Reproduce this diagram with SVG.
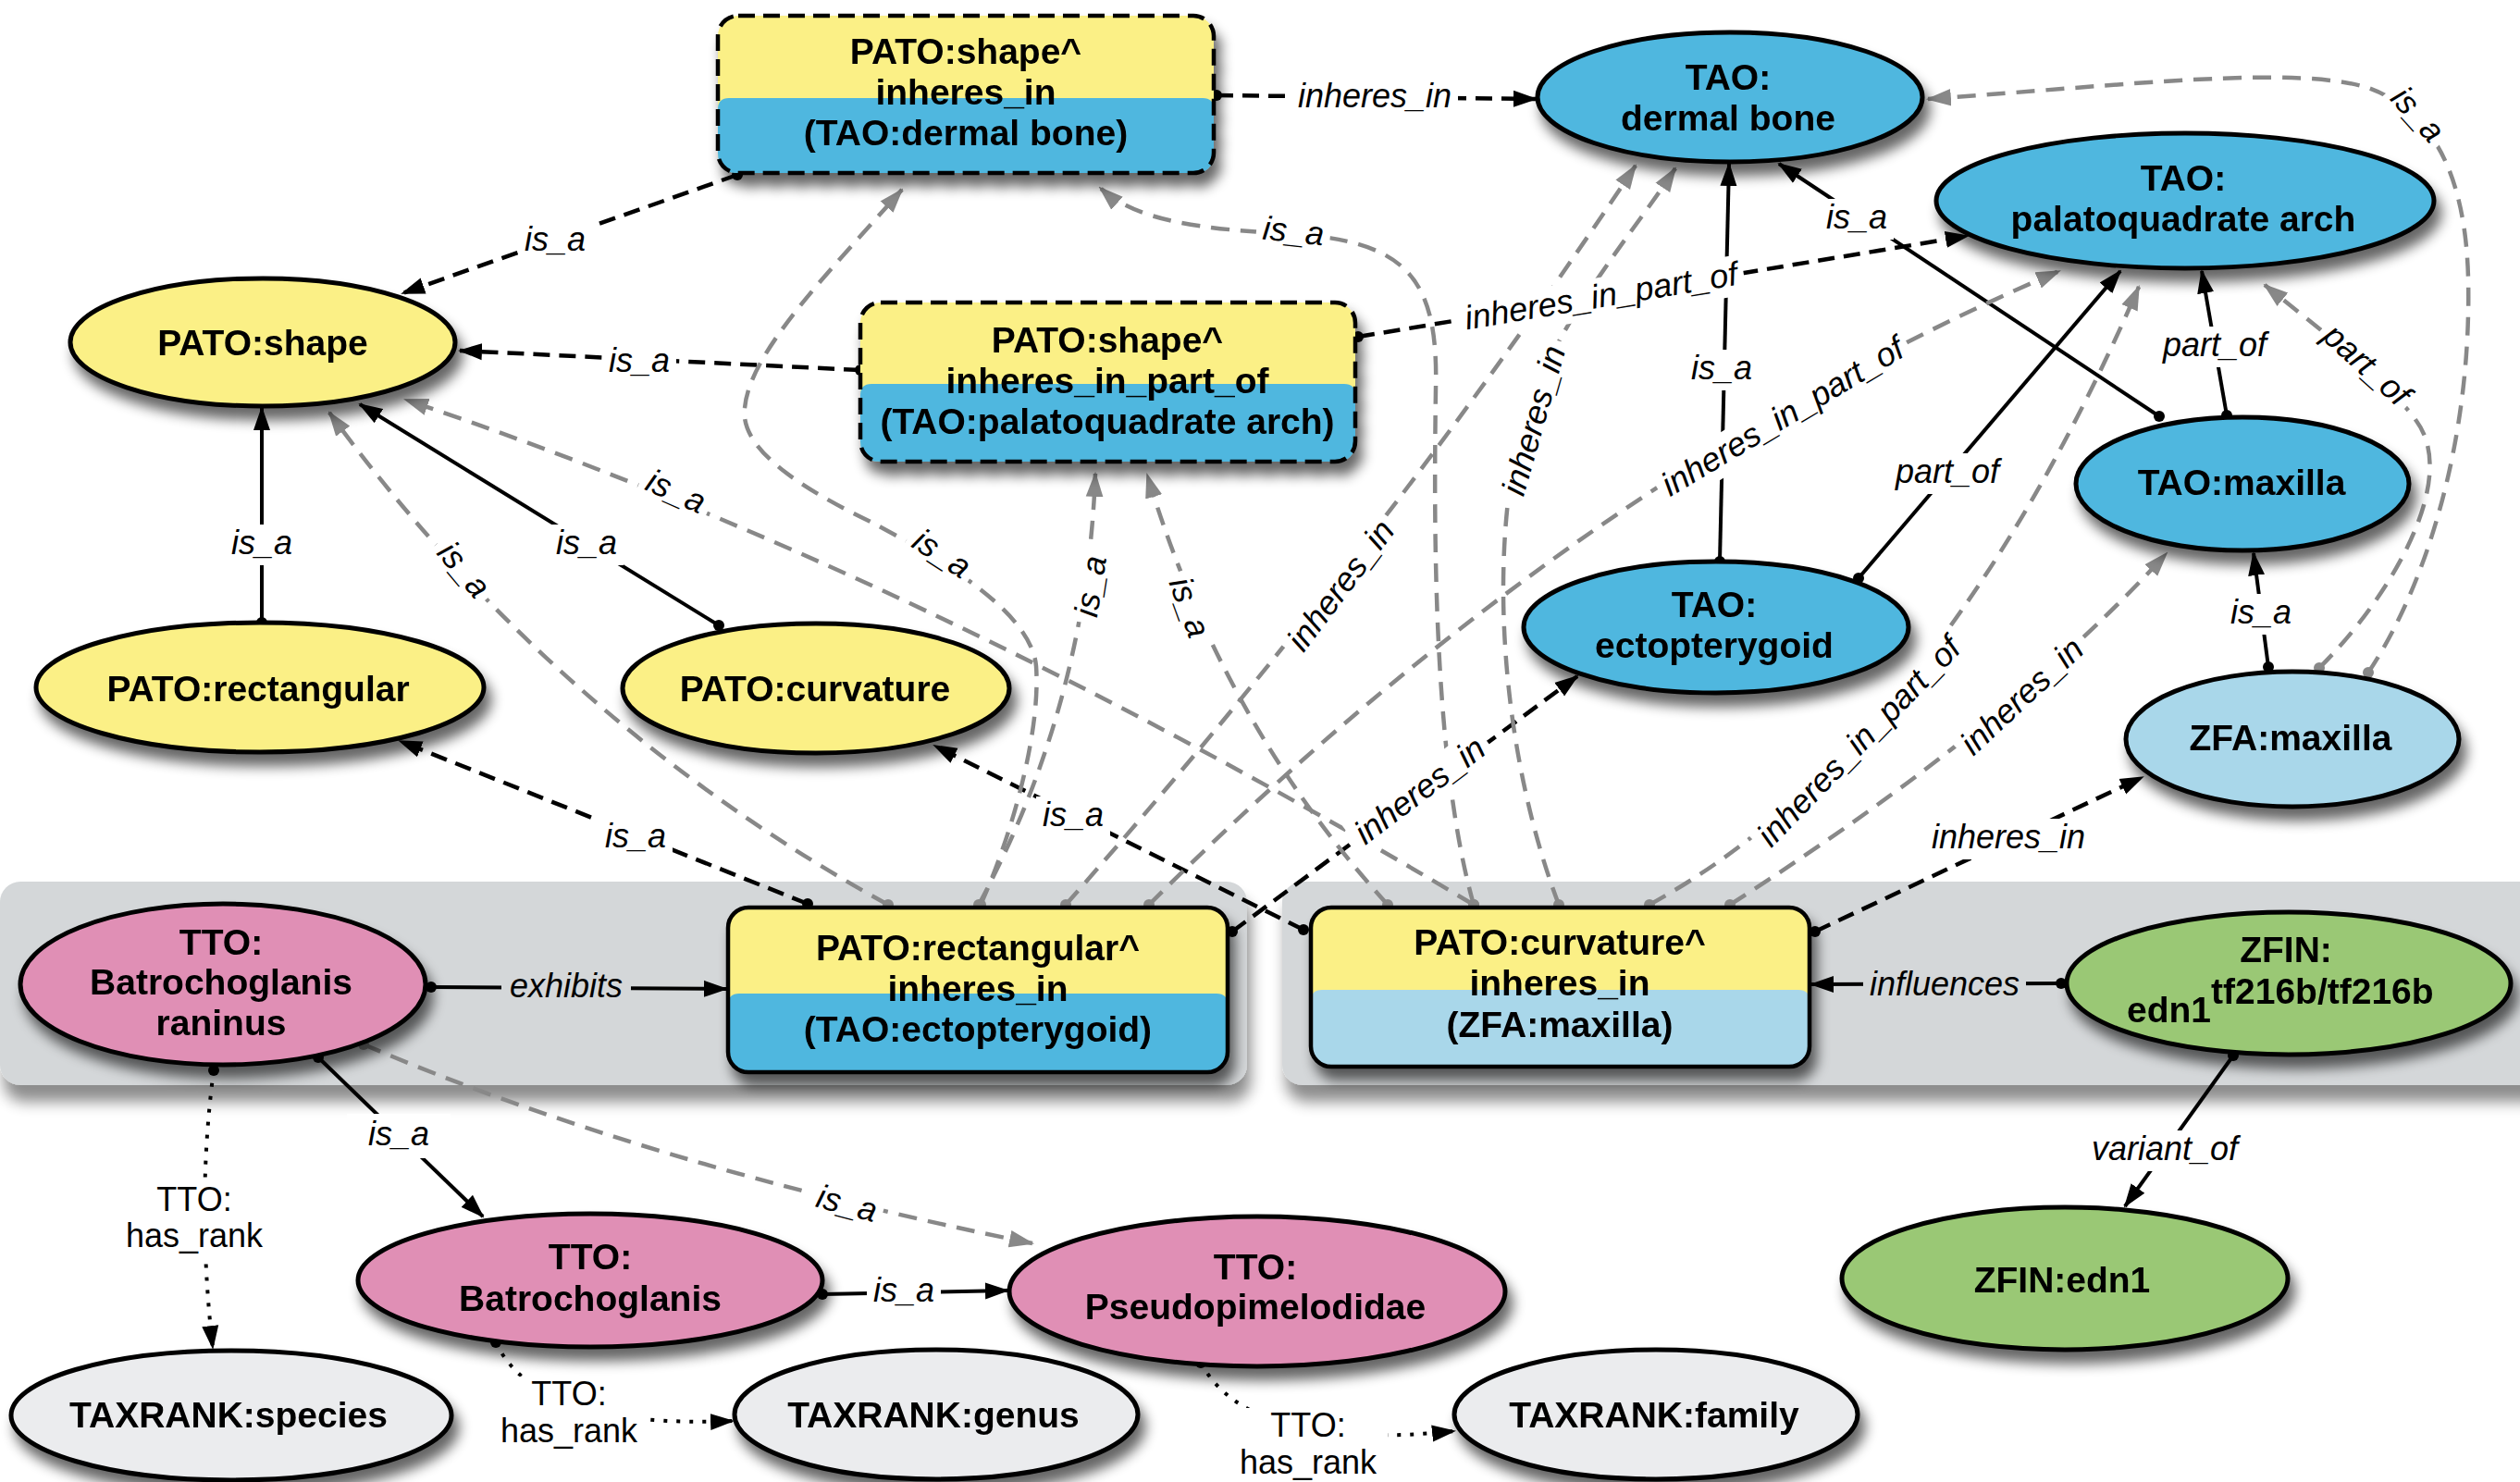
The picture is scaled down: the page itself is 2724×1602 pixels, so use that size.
<svg xmlns="http://www.w3.org/2000/svg" width="2724" height="1602" viewBox="0 0 2724 1602">
<defs>
<style>
.nt{font-family:"Liberation Sans",Arial,sans-serif;font-weight:bold;font-size:39px;text-anchor:middle;fill:#000}
.lb{font-family:"Liberation Sans",Arial,sans-serif;font-style:italic;font-size:36px;text-anchor:middle;fill:#000}
.lr{font-family:"Liberation Sans",Arial,sans-serif;font-size:36px;text-anchor:middle;fill:#000}
.wbg{fill:#fff}
.gbg{fill:#d4d7d9}
.yel{fill:#fbf086}
.blu{fill:#4fb7df}
.lbl{fill:#a9d7ea}
.pnk{fill:#e08fb5}
.grn{fill:#9ac874}
.txr{fill:#ebecee}
.ell{stroke:#000;stroke-width:5}
.bdash{fill:none;stroke:#000;stroke-width:4.5;stroke-dasharray:18 9}
.bsol{fill:none;stroke:#000;stroke-width:4.5}
.bd{fill:none;stroke:#000;stroke-width:4.5;stroke-dasharray:18 10;marker-start:url(#db);marker-end:url(#ab)}
.bs{fill:none;stroke:#000;stroke-width:4;marker-start:url(#db);marker-end:url(#ab)}
.dt{fill:none;stroke:#000;stroke-width:4;stroke-dasharray:4 10;marker-start:url(#db);marker-end:url(#ab)}
.gd{fill:none;stroke:#888;stroke-width:4.5;stroke-dasharray:20 12;marker-start:url(#dg);marker-end:url(#ag)}
</style>
<filter id="sh" x="-15%" y="-15%" width="140%" height="160%">
<feGaussianBlur in="SourceAlpha" stdDeviation="7"/>
<feOffset dx="6" dy="13"/>
<feComponentTransfer><feFuncA type="linear" slope="0.6"/></feComponentTransfer>
<feMerge><feMergeNode/><feMergeNode in="SourceGraphic"/></feMerge>
</filter>
<filter id="gsh" x="-5%" y="-10%" width="110%" height="140%">
<feGaussianBlur in="SourceAlpha" stdDeviation="8"/>
<feOffset dx="4" dy="18"/>
<feComponentTransfer><feFuncA type="linear" slope="0.45"/></feComponentTransfer>
<feMerge><feMergeNode/><feMergeNode in="SourceGraphic"/></feMerge>
</filter>
<marker id="ab" viewBox="0 0 26 20" refX="24" refY="10" markerWidth="26" markerHeight="20" markerUnits="userSpaceOnUse" orient="auto"><path d="M0,1 L26,10 L0,19 Z" fill="#000"/></marker>
<marker id="ag" viewBox="0 0 26 20" refX="24" refY="10" markerWidth="27" markerHeight="21" markerUnits="userSpaceOnUse" orient="auto"><path d="M0,1 L26,10 L0,19 Z" fill="#888"/></marker>
<marker id="db" viewBox="0 0 14 14" refX="7" refY="7" markerWidth="14" markerHeight="14" markerUnits="userSpaceOnUse"><circle cx="7" cy="7" r="6" fill="#000"/></marker>
<marker id="dg" viewBox="0 0 14 14" refX="7" refY="7" markerWidth="14" markerHeight="14" markerUnits="userSpaceOnUse"><circle cx="7" cy="7" r="6" fill="#888"/></marker>
</defs>
<rect x="0" y="0" width="2724" height="1602" fill="#fff"/>

<g id="groups">
<rect id="group-left" x="0" y="953" width="1348" height="220" rx="22" class="gbg" filter="url(#gsh)"/>
<rect id="group-right" x="1386" y="953" width="1400" height="220" rx="22" class="gbg" filter="url(#gsh)"/>
</g>

<g id="connectors">
<path class="bd" d="M797,189 L435,317"/>
<path class="bd" d="M930,400 L497,379"/>
<path class="bd" d="M1315,103 L1660,107"/>
<path class="bd" d="M1468,364 L2127,255"/>
<path class="bd" d="M873,977 L432,801"/>
<path class="bd" d="M1409,1005 L1010,806"/>
<path class="bd" d="M1332,1007 L1705,731"/>
<path class="bd" d="M1962,1007 L2316,840"/>
<path class="bs" d="M283,673 L283,441"/>
<path class="bs" d="M777,676 L389,437"/>
<path class="bs" d="M1859,607 L1869,177"/>
<path class="bs" d="M2334,450 L1923,177"/>
<path class="bs" d="M2009,625 L2292,293"/>
<path class="bs" d="M2407,449 L2380,293"/>
<path class="bs" d="M2452,721 L2436,598"/>
<path class="bs" d="M466,1067 L785,1069"/>
<path class="bs" d="M2228,1063 L1958,1064"/>
<path class="bs" d="M344,1143 L522,1315"/>
<path class="bs" d="M889,1399 L1089,1395"/>
<path class="bs" d="M2414,1141 L2297,1304"/>
<path class="dt" d="M231,1157 Q212,1300 230,1457"/>
<path class="dt" d="M536,1451 Q580,1545 792,1536"/>
<path class="dt" d="M1298,1473 Q1350,1570 1572,1547"/>
<path class="gd" d="M960,978 Q600,780 356,446"/>
<path class="gd" d="M1593,978 Q985,615 438,432"/>
<path class="gd" d="M1060,978 C1095,900 1125,790 1120,720 C1115,660 1010,600 939,563 C850,520 800,480 805,441 C810,380 900,290 975,205"/>
<path class="gd" d="M1058,978 Q1175,760 1184,512"/>
<path class="gd" d="M1500,978 Q1320,780 1240,513"/>
<path class="gd" d="M1593,978 C1548,820 1550,560 1552,420 C1555,300 1520,262 1400,253 C1300,248 1230,240 1189,203"/>
<path class="gd" d="M1152,978 Q1495,590 1768,179"/>
<path class="gd" d="M1685,978 C1625,820 1610,620 1640,480 C1670,360 1760,260 1811,182"/>
<path class="gd" d="M1242,978 Q1706,515 2226,293"/>
<path class="gd" d="M1783,978 Q2096,806 2312,310"/>
<path class="gd" d="M1870,978 Q2172,785 2342,598"/>
<path class="gd" d="M2560,727 C2625,630 2672,470 2668,300 C2665,190 2630,120 2560,95 C2480,70 2300,92 2084,107"/>
<path class="gd" d="M2507,722 C2580,650 2660,520 2612,455 C2580,410 2500,350 2448,308"/>
<path class="gd" d="M393,1129 Q700,1260 1116,1344"/>
</g>

<g id="labels">
<g transform="translate(600,261)"><rect class="wbg" x="-40" y="-22" width="80" height="44"/><text class="lb" y="10">is_a</text></g>
<g transform="translate(691,392)"><rect class="wbg" x="-40" y="-22" width="80" height="44"/><text class="lb" y="10">is_a</text></g>
<g transform="translate(1486,106)"><rect class="wbg" x="-90" y="-22" width="180" height="44"/><text class="lb" y="10">inheres_in</text></g>
<g transform="translate(1731,322) rotate(-9.4)"><rect class="wbg" x="-156" y="-22" width="312" height="44"/><text class="lb" y="10">inheres_in_part_of</text></g>
<g transform="translate(687,906)"><rect class="wbg" x="-40" y="-22" width="80" height="44"/><text class="lb" y="10">is_a</text></g>
<g transform="translate(1160,883)"><rect class="wbg" x="-40" y="-22" width="80" height="44"/><text class="lb" y="10">is_a</text></g>
<g transform="translate(1536,856) rotate(-37)"><rect class="wbg" x="-90" y="-22" width="180" height="44"/><text class="lb" y="10">inheres_in</text></g>
<g transform="translate(2171,907)"><rect class="wbg" x="-90" y="-22" width="180" height="44"/><text class="lb" y="10">inheres_in</text></g>
<g transform="translate(283,589)"><rect class="wbg" x="-40" y="-22" width="80" height="44"/><text class="lb" y="10">is_a</text></g>
<g transform="translate(634,589)"><rect class="wbg" x="-40" y="-22" width="80" height="44"/><text class="lb" y="10">is_a</text></g>
<g transform="translate(1861,400)"><rect class="wbg" x="-40" y="-22" width="80" height="44"/><text class="lb" y="10">is_a</text></g>
<g transform="translate(2007,237)"><rect class="wbg" x="-40" y="-22" width="80" height="44"/><text class="lb" y="10">is_a</text></g>
<g transform="translate(2105,512)"><rect class="wbg" x="-62" y="-22" width="124" height="44"/><text class="lb" y="10">part_of</text></g>
<g transform="translate(2394,375)"><rect class="wbg" x="-62" y="-22" width="124" height="44"/><text class="lb" y="10">part_of</text></g>
<g transform="translate(2444,664)"><rect class="wbg" x="-40" y="-22" width="80" height="44"/><text class="lb" y="10">is_a</text></g>
<g transform="translate(612,1068)"><rect class="gbg" x="-70" y="-22" width="140" height="44"/><text class="lb" y="10">exhibits</text></g>
<g transform="translate(2102,1066)"><rect class="gbg" x="-88" y="-22" width="176" height="44"/><text class="lb" y="10">influences</text></g>
<g transform="translate(431,1228)"><rect class="wbg" x="-56" y="-24" width="112" height="48"/><text class="lb" y="10">is_a</text></g>
<g transform="translate(977,1397)"><rect class="wbg" x="-40" y="-22" width="80" height="44"/><text class="lb" y="10">is_a</text></g>
<g transform="translate(2340,1244)"><rect class="wbg" x="-86" y="-22" width="172" height="44"/><text class="lb" y="10">variant_of</text></g>
<g><rect class="wbg" x="130" y="1276" width="160" height="84"/><text class="lr" x="210" y="1309">TTO:</text><text class="lr" x="210" y="1348">has_rank</text></g>
<g><rect class="wbg" x="530" y="1488" width="170" height="84"/><text class="lr" x="615" y="1519">TTO:</text><text class="lr" x="615" y="1559">has_rank</text></g>
<g><rect class="wbg" x="1330" y="1522" width="170" height="80"/><text class="lr" x="1414" y="1553">TTO:</text><text class="lr" x="1414" y="1593">has_rank</text></g>
<g transform="translate(500,617) rotate(50)"><rect class="wbg" x="-40" y="-22" width="80" height="44"/><text class="lb" y="10">is_a</text></g>
<g transform="translate(730,533) rotate(24)"><rect class="wbg" x="-40" y="-22" width="80" height="44"/><text class="lb" y="10">is_a</text></g>
<g transform="translate(1017,600) rotate(33)"><rect class="wbg" x="-40" y="-22" width="80" height="44"/><text class="lb" y="10">is_a</text></g>
<g transform="translate(1181,634) rotate(-81)"><rect class="wbg" x="-40" y="-22" width="80" height="44"/><text class="lb" y="10">is_a</text></g>
<g transform="translate(1284,657) rotate(70)"><rect class="wbg" x="-40" y="-22" width="80" height="44"/><text class="lb" y="10">is_a</text></g>
<g transform="translate(1398,252) rotate(6)"><rect class="wbg" x="-40" y="-22" width="80" height="44"/><text class="lb" y="10">is_a</text></g>
<g transform="translate(1451,634) rotate(-53)"><rect class="wbg" x="-90" y="-22" width="180" height="44"/><text class="lb" y="10">inheres_in</text></g>
<g transform="translate(1660,455) rotate(-74)"><rect class="wbg" x="-90" y="-22" width="180" height="44"/><text class="lb" y="10">inheres_in</text></g>
<g transform="translate(1928,452) rotate(-31)"><rect class="wbg" x="-156" y="-22" width="312" height="44"/><text class="lb" y="10">inheres_in_part_of</text></g>
<g transform="translate(2011,803) rotate(-46)"><rect class="wbg" x="-156" y="-22" width="312" height="44"/><text class="lb" y="10">inheres_in_part_of</text></g>
<g transform="translate(2187,754) rotate(-43)"><rect class="wbg" x="-90" y="-22" width="180" height="44"/><text class="lb" y="10">inheres_in</text></g>
<g transform="translate(2612,125) rotate(48)"><rect class="wbg" x="-40" y="-22" width="80" height="44"/><text class="lb" y="10">is_a</text></g>
<g transform="translate(2557,396) rotate(42)"><rect class="wbg" x="-62" y="-22" width="124" height="44"/><text class="lb" y="10">part_of</text></g>
<g transform="translate(915,1303) rotate(15)"><rect class="wbg" x="-40" y="-22" width="80" height="44"/><text class="lb" y="10">is_a</text></g>
</g>

<g id="nodes">
<g id="n-shape-inheres-dermal-bone" filter="url(#sh)">
<rect x="776" y="17" width="536" height="170" rx="22" class="yel"/>
<path class="blu" d="M776,118 Q776,106 788,106 H1300 Q1312,106 1312,118 V165 Q1312,187 1290,187 H798 Q776,187 776,165 Z"/>
<rect x="776" y="17" width="536" height="170" rx="22" class="bdash"/>
<text class="nt"><tspan x="1044" y="69">PATO:shape^</tspan><tspan x="1044" y="113">inheres_in</tspan><tspan x="1044" y="157">(TAO:dermal bone)</tspan></text>
</g>
<g id="n-shape-inheres-part-of-pq" filter="url(#sh)">
<rect x="930" y="327" width="535" height="172" rx="22" class="yel"/>
<path class="blu" d="M930,427 Q930,415 942,415 H1453 Q1465,415 1465,427 V477 Q1465,499 1443,499 H952 Q930,499 930,477 Z"/>
<rect x="930" y="327" width="535" height="172" rx="22" class="bdash"/>
<text class="nt"><tspan x="1197" y="381">PATO:shape^</tspan><tspan x="1197" y="425">inheres_in_part_of</tspan><tspan x="1197" y="469">(TAO:palatoquadrate arch)</tspan></text>
</g>
<g id="n-rect-inheres-ecto" filter="url(#sh)">
<rect x="787" y="981" width="540" height="178" rx="22" class="yel"/>
<path class="blu" d="M787,1086 Q787,1074 799,1074 H1315 Q1327,1074 1327,1086 V1137 Q1327,1159 1305,1159 H809 Q787,1159 787,1137 Z"/>
<rect x="787" y="981" width="540" height="178" rx="22" class="bsol"/>
<text class="nt"><tspan x="1057" y="1038">PATO:rectangular^</tspan><tspan x="1057" y="1082">inheres_in</tspan><tspan x="1057" y="1126">(TAO:ectopterygoid)</tspan></text>
</g>
<g id="n-curv-inheres-zfa-maxilla" filter="url(#sh)">
<rect x="1417" y="981" width="539" height="172" rx="22" class="yel"/>
<path class="lbl" d="M1417,1082 Q1417,1070 1429,1070 H1944 Q1956,1070 1956,1082 V1131 Q1956,1153 1934,1153 H1439 Q1417,1153 1417,1131 Z"/>
<rect x="1417" y="981" width="539" height="172" rx="22" class="bsol"/>
<text class="nt"><tspan x="1686" y="1032">PATO:curvature^</tspan><tspan x="1686" y="1076">inheres_in</tspan><tspan x="1686" y="1121">(ZFA:maxilla)</tspan></text>
</g>
<g id="n-pato-shape" filter="url(#sh)"><ellipse cx="284" cy="370" rx="208" ry="69" class="yel ell"/><text class="nt" x="284" y="384">PATO:shape</text></g>
<g id="n-pato-rectangular" filter="url(#sh)"><ellipse cx="281" cy="743" rx="242" ry="70" class="yel ell"/><text class="nt" x="279" y="758">PATO:rectangular</text></g>
<g id="n-pato-curvature" filter="url(#sh)"><ellipse cx="882" cy="744" rx="209" ry="70" class="yel ell"/><text class="nt" x="881" y="758">PATO:curvature</text></g>
<g id="n-tao-dermal-bone" filter="url(#sh)"><ellipse cx="1870" cy="105" rx="208" ry="70" class="blu ell"/><text class="nt"><tspan x="1868" y="97">TAO:</tspan><tspan x="1868" y="141">dermal bone</tspan></text></g>
<g id="n-tao-pq-arch" filter="url(#sh)"><ellipse cx="2362" cy="217" rx="269" ry="73" class="blu ell"/><text class="nt"><tspan x="2360" y="206">TAO:</tspan><tspan x="2360" y="250">palatoquadrate arch</tspan></text></g>
<g id="n-tao-maxilla" filter="url(#sh)"><ellipse cx="2424" cy="523" rx="180" ry="72" class="blu ell"/><text class="nt" x="2423" y="535">TAO:maxilla</text></g>
<g id="n-tao-ectopterygoid" filter="url(#sh)"><ellipse cx="1855" cy="678" rx="208" ry="71" class="blu ell"/><text class="nt"><tspan x="1853" y="667">TAO:</tspan><tspan x="1853" y="711">ectopterygoid</tspan></text></g>
<g id="n-zfa-maxilla" filter="url(#sh)"><ellipse cx="2478" cy="799" rx="180" ry="73" class="lbl ell"/><text class="nt" x="2476" y="811">ZFA:maxilla</text></g>
<g id="n-tto-raninus" filter="url(#sh)"><ellipse cx="241" cy="1064" rx="219" ry="87" class="pnk ell"/><text class="nt"><tspan x="239" y="1032">TTO:</tspan><tspan x="239" y="1075">Batrochoglanis</tspan><tspan x="239" y="1119">raninus</tspan></text></g>
<g id="n-tto-batrochoglanis" filter="url(#sh)"><ellipse cx="638" cy="1384" rx="251" ry="72" class="pnk ell"/><text class="nt"><tspan x="638" y="1372">TTO:</tspan><tspan x="638" y="1417">Batrochoglanis</tspan></text></g>
<g id="n-tto-pseudopimelodidae" filter="url(#sh)"><ellipse cx="1359" cy="1396" rx="268" ry="81" class="pnk ell"/><text class="nt"><tspan x="1357" y="1383">TTO:</tspan><tspan x="1357" y="1426">Pseudopimelodidae</tspan></text></g>
<g id="n-taxrank-species" filter="url(#sh)"><ellipse cx="250" cy="1530" rx="238" ry="70" class="txr ell"/><text class="nt" x="247" y="1543">TAXRANK:species</text></g>
<g id="n-taxrank-genus" filter="url(#sh)"><ellipse cx="1012" cy="1529" rx="218" ry="70" class="txr ell"/><text class="nt" x="1009" y="1543">TAXRANK:genus</text></g>
<g id="n-taxrank-family" filter="url(#sh)"><ellipse cx="1790" cy="1529" rx="218" ry="70" class="txr ell"/><text class="nt" x="1788" y="1543">TAXRANK:family</text></g>
<g id="n-zfin-edn1-tf216b" filter="url(#sh)"><ellipse cx="2474" cy="1063" rx="240" ry="77" class="grn ell"/><text class="nt" x="2471" y="1040">ZFIN:</text><text class="nt" x="2299" y="1105" style="text-anchor:start">edn1<tspan dy="-20">tf216b/tf216b</tspan></text></g>
<g id="n-zfin-edn1" filter="url(#sh)"><ellipse cx="2232" cy="1382" rx="241" ry="77" class="grn ell"/><text class="nt" x="2229" y="1397">ZFIN:edn1</text></g>
</g>
</svg>
